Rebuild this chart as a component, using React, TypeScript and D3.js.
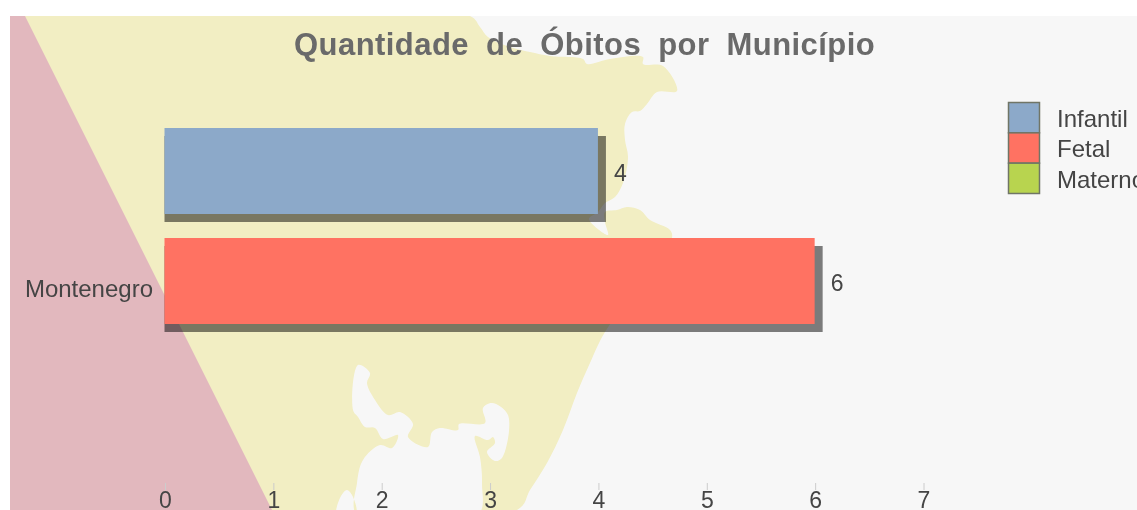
import React from "react";
import * as d3 from "d3";

const categories = ["Montenegro"];
const seriesNames = ["Infantil", "Fetal", "Materno"];
const seriesColors = ["#8ca9c9", "#ff7262", "#b8d44f"];
const infantilValues = [4];
const fetalValues = [6];
const maternoValues = [0];
const axisTicks = [0, 1, 2, 3, 4, 5, 6, 7];
const titleText = "Quantidade de Óbitos por Município";

// Decorative map picture behind the chart
const landOutline: [number, number][] = [
  [10, 16], [470, 16], [480, 27], [488, 37], [510, 47], [530, 52], [550, 56], [583, 59], [587, 64], [610, 59], [643, 57], [643, 64], [663, 66], [677, 91],
  [657, 92], [647, 104], [640, 111], [632, 112], [625, 124], [625, 140], [628, 157], [623, 183], [615, 197], [605, 203], [598, 212], [589, 219], [608, 235],
  [605, 222], [605, 212], [617, 210], [627, 207], [640, 210], [650, 220], [670, 230], [672, 238], [640, 285], [605, 332], [590, 363], [577, 393], [563, 430],
  [547, 463], [530, 490], [517, 510], [10, 510],
];
const lagoon: [number, number][] = [
  [358, 365], [370, 373], [367, 383], [375, 400], [388, 415], [400, 412], [413, 424], [408, 437], [428, 447], [432, 432], [440, 428], [458, 430], [459, 424], [485, 423],
  [483, 408], [492, 403], [508, 415], [502, 458], [495, 461], [487, 452], [495, 443], [493, 437], [488, 440], [475, 436], [480, 457], [482, 483], [478, 515],
  [357, 515], [357, 483], [363, 460], [380, 445], [392, 448], [398, 435], [383, 439], [375, 428], [365, 427], [358, 417], [353, 410],
];
const islet: [number, number][] = [[337, 515], [340, 498], [347, 490], [353, 497], [356, 515]];
const pinkArea: [number, number][] = [[10, 16], [25, 16], [272, 510], [10, 510]];

const seriesValues = [infantilValues, fetalValues, maternoValues];

const x = d3.scaleLinear().domain([0, 7]).range([164.5, 923]);
const y0 = d3.scaleBand<string>().domain(categories).range([128, 434]);
const y1 = d3
  .scaleBand<string>()
  .domain(seriesNames)
  .range([y0(categories[0])!, y0(categories[0])! + y0.bandwidth()])
  .paddingInner(24 / 110);
const legendY = d3.scaleBand<string>().domain(seriesNames).range([102.5, 193.5]);

const openLine = d3.line().curve(d3.curveCatmullRom.alpha(0.5));
const closedLine = d3.line().curve(d3.curveCatmullRomClosed.alpha(0.5));
const straight = d3.line().curve(d3.curveLinear);
const font = "'Liberation Sans', Arial, sans-serif";

export default function App() {
  return (
    <svg
      width={1137}
      height={510}
      style={{ position: "absolute", left: 0, top: 0, display: "block", background: "#fff" }}
      fontFamily={font}
    >
      <defs>
        <filter id="soft" x="-5%" y="-20%" width="110%" height="140%">
          <feGaussianBlur stdDeviation="0.45" />
        </filter>
        <clipPath id="plate">
          <rect x={10} y={16} width={1127} height={494} />
        </clipPath>
      </defs>
      <rect x={10} y={16} width={1127} height={494} fill="#f7f7f7" />
      <g clipPath="url(#plate)">
        <g filter="url(#soft)">
          <path d={openLine(landOutline)! + "Z" + closedLine(lagoon)! + closedLine(islet)!} fill="#f2eec3" fillRule="evenodd" />
          <path d={straight(pinkArea)! + "Z"} fill="#e2b8be" />
        </g>
      </g>

      {categories.map((c, ci) =>
        seriesNames.map((s, si) => {
          const v = seriesValues[si][ci];
          if (!v) return null;
          const top = y1(s)!;
          const h = y1.bandwidth();
          const w = x(v) - x(0);
          return (
            <g key={s}>
              <rect x={x(0)} y={top + 8} width={w + 8} height={h} fill="#000" opacity={0.5} />
              <rect x={x(0)} y={top} width={w} height={h} fill={seriesColors[si]} />
              <text x={x(v) + 22.5} y={top + 52.5} textAnchor="middle" fontSize={23} fill="#444" filter="url(#soft)">
                {v}
              </text>
            </g>
          );
        })
      )}

      <g filter="url(#soft)">
        <text x={294} y={55} fontSize={31} fontWeight="bold" wordSpacing={8} letterSpacing={0.45} fill="#6a6a6a">
          {titleText}
        </text>
        {categories.map((c) => (
          <text key={c} x={153} y={297} textAnchor="end" fontSize={24} fill="#444">
            {c}
          </text>
        ))}
        {axisTicks.map((t) => (
          <g key={t}>
            <line x1={x(t) + 1} x2={x(t) + 1} y1={483} y2={490} stroke="#ccc" />
            <text x={x(t) + 1} y={508} textAnchor="middle" fontSize={23} fill="#444">
              {t}
            </text>
          </g>
        ))}
        {seriesNames.map((s, i) => (
          <g key={s}>
            <rect
              x={1008.5}
              y={legendY(s)!}
              width={31}
              height={legendY.bandwidth()}
              fill={seriesColors[i]}
              stroke="#6f7566"
              strokeWidth={1.5}
            />
            <text x={1057} y={legendY(s)! + 24.5} fontSize={24} fill="#444">
              {s}
            </text>
          </g>
        ))}
      </g>
    </svg>
  );
}
